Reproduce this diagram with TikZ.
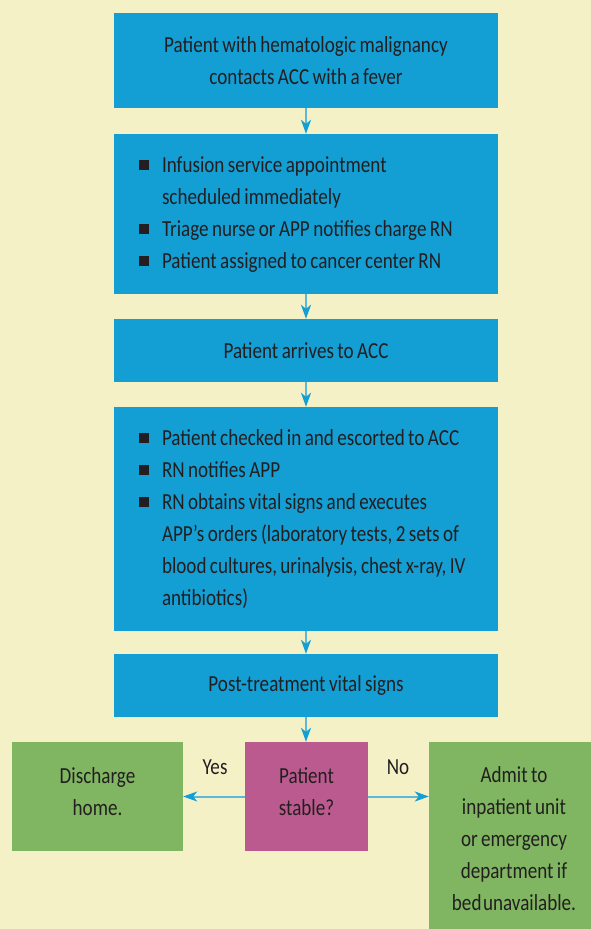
\documentclass[tikz,border=0pt]{standalone}
\usepackage{fontspec}
\setmainfont[FakeStretch=0.83, WordSpace=0.8]{Carlito}
\usetikzlibrary{arrows.meta}
\definecolor{bg}{HTML}{F5F1C7}
\definecolor{boxblue}{HTML}{139ED4}
\definecolor{arrline}{HTML}{5BB8D8}
\definecolor{boxgreen}{HTML}{80B562}
\definecolor{boxpink}{HTML}{BB5A8E}
\definecolor{txt}{HTML}{231F20}
\newcommand\sqb{\raisebox{2pt}{\rule{10pt}{10pt}}}
\tikzset{
  box/.style={rectangle, inner sep=0pt, text=txt, font=\fontsize{23}{32}\selectfont},
  bluebox/.style={box, fill=boxblue, minimum width=384pt},
  listbox/.style={bluebox, text width=334pt, inner xsep=25pt, align=left},
  greenbox/.style={box, fill=boxgreen},
  pinkbox/.style={box, fill=boxpink},
  lbl/.style={inner sep=0pt, text=txt, font=\fontsize{23}{32}\selectfont, align=center},
  arr/.style={line width=2pt, draw=arrline, -{Stealth[length=14pt, width=10pt, inset=4pt, color=boxblue]}, shorten >=0pt}
}
\begin{document}
\begin{tikzpicture}
\fill[bg] (0,0) rectangle (591pt,-929pt);
\useasboundingbox (0,0) rectangle (591pt,-929pt);
\node[bluebox, minimum height=95pt, align=center] (b1) at (306pt,-60.5pt) {Patient with hematologic malignancy\\contacts ACC with a fever};
\node[listbox, minimum height=160pt] (b2) at (306pt,-214pt) {\spaceskip=0pt\xspaceskip=0pt\begin{tabular}{@{}l@{\hspace{13pt}}l@{}}
\sqb & Infusion service appointment\\
 & scheduled immediately\\
\sqb & Triage nurse or APP notifies charge RN\\
\sqb & Patient assigned to cancer center RN
\end{tabular}};
\node[bluebox, minimum height=63pt] (b3) at (306pt,-350.5pt) {Patient arrives to ACC};
\node[listbox, minimum height=224pt] (b4) at (306pt,-519pt) {\spaceskip=0pt\xspaceskip=0pt\begin{tabular}{@{}l@{\hspace{13pt}}l@{}}
\sqb & Patient checked in and escorted to ACC\\
\sqb & RN notifies APP\\
\sqb & RN obtains vital signs and executes\\
 & APP's orders (laboratory tests, 2 sets of\\
 & blood cultures, urinalysis, chest x-ray, IV\\
 & antibiotics)
\end{tabular}};
\node[bluebox, minimum height=63pt] (b5) at (306pt,-685.5pt) {Post-treatment vital signs};
\node[pinkbox, minimum width=123pt, minimum height=109pt] (dec) at (306.5pt,-796.5pt) {};
\node[greenbox, minimum width=171pt, minimum height=109pt] (dis) at (97.5pt,-796.5pt) {};
\node[greenbox, minimum width=166pt, minimum height=193pt] (adm) at (512pt,-838.5pt) {};
\node[lbl] (dect) at ([yshift=5pt]dec.center) {Patient\\stable?};
\node[lbl] (dist) at ([yshift=5pt]dis.center) {Discharge\\home.};
\node[lbl] (admt) at (514pt,-839pt) {Admit to\\inpatient unit\\or emergency\\department if\\bed\hspace{1.5pt}unavailable.};
\node[lbl] (yes) at (215pt,-767pt) {Yes};
\node[lbl] (no) at (398pt,-767pt) {No};
\draw[arr] (b1.south) -- (b2.north);
\draw[arr] (b2.south) -- (b3.north);
\draw[arr] (b3.south) -- (b4.north);
\draw[arr] (b4.south) -- (b5.north);
\draw[arr] (b5.south) -- (dec.north -| b5.south);
\draw[arr] (dec.west) -- (dis.east);
\draw[arr] (dec.east) -- (adm.west |- dec.east);
\end{tikzpicture}
\end{document}
